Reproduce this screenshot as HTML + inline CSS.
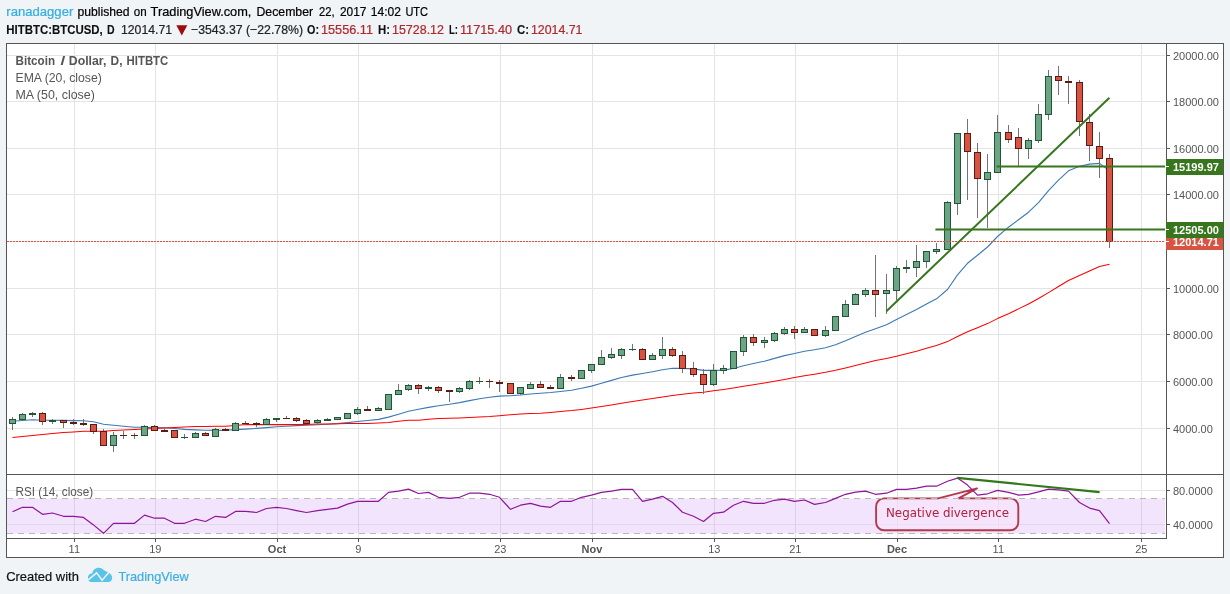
<!DOCTYPE html>
<html lang="en">
<head>
<meta charset="utf-8">
<title>HITBTC:BTCUSD, D - TradingView</title>
<style>
html,body{margin:0;padding:0;background:#F0F4F7;}
body{width:1230px;height:594px;overflow:hidden;font-family:"Liberation Sans", Arial, sans-serif;}
svg text{white-space:pre;}
</style>
</head>
<body>
<svg width="1230" height="594" viewBox="0 0 1230 594" style="display:block;will-change:transform">
<rect x="0" y="0" width="1230" height="594" fill="#F0F4F7"/>
<rect x="6" y="43" width="1218" height="515" fill="#FFFFFF"/>
<g shape-rendering="crispEdges">
<rect x="74" y="44" width="1" height="430" fill="#E4E4E4"/>
<rect x="74" y="475" width="1" height="63" fill="#E4E4E4"/>
<rect x="155" y="44" width="1" height="430" fill="#E4E4E4"/>
<rect x="155" y="475" width="1" height="63" fill="#E4E4E4"/>
<rect x="277" y="44" width="1" height="430" fill="#E4E4E4"/>
<rect x="277" y="475" width="1" height="63" fill="#E4E4E4"/>
<rect x="358" y="44" width="1" height="430" fill="#E4E4E4"/>
<rect x="358" y="475" width="1" height="63" fill="#E4E4E4"/>
<rect x="500" y="44" width="1" height="430" fill="#E4E4E4"/>
<rect x="500" y="475" width="1" height="63" fill="#E4E4E4"/>
<rect x="592" y="44" width="1" height="430" fill="#E4E4E4"/>
<rect x="592" y="475" width="1" height="63" fill="#E4E4E4"/>
<rect x="714" y="44" width="1" height="430" fill="#E4E4E4"/>
<rect x="714" y="475" width="1" height="63" fill="#E4E4E4"/>
<rect x="795" y="44" width="1" height="430" fill="#E4E4E4"/>
<rect x="795" y="475" width="1" height="63" fill="#E4E4E4"/>
<rect x="897" y="44" width="1" height="430" fill="#E4E4E4"/>
<rect x="897" y="475" width="1" height="63" fill="#E4E4E4"/>
<rect x="998" y="44" width="1" height="430" fill="#E4E4E4"/>
<rect x="998" y="475" width="1" height="63" fill="#E4E4E4"/>
<rect x="1141" y="44" width="1" height="430" fill="#E4E4E4"/>
<rect x="1141" y="475" width="1" height="63" fill="#E4E4E4"/>
<rect x="7" y="428" width="1158" height="1" fill="#E4E4E4"/>
<rect x="7" y="381" width="1158" height="1" fill="#E4E4E4"/>
<rect x="7" y="334" width="1158" height="1" fill="#E4E4E4"/>
<rect x="7" y="288" width="1158" height="1" fill="#E4E4E4"/>
<rect x="7" y="241" width="1158" height="1" fill="#E4E4E4"/>
<rect x="7" y="194" width="1158" height="1" fill="#E4E4E4"/>
<rect x="7" y="148" width="1158" height="1" fill="#E4E4E4"/>
<rect x="7" y="101" width="1158" height="1" fill="#E4E4E4"/>
<rect x="7" y="55" width="1158" height="1" fill="#E4E4E4"/>
<rect x="7" y="490" width="1158" height="1" fill="#E4E4E4"/>
<rect x="7" y="524" width="1158" height="1" fill="#E4E4E4"/>
</g>
<rect x="7" y="498.5" width="1158" height="35" fill="#F3E4FD"/>
<g shape-rendering="crispEdges">
<rect x="7" y="524" width="1158" height="1" fill="#E2D6EA"/>
<rect x="74" y="499" width="1" height="34" fill="#DDD0E6"/>
<rect x="155" y="499" width="1" height="34" fill="#DDD0E6"/>
<rect x="277" y="499" width="1" height="34" fill="#DDD0E6"/>
<rect x="358" y="499" width="1" height="34" fill="#DDD0E6"/>
<rect x="500" y="499" width="1" height="34" fill="#DDD0E6"/>
<rect x="592" y="499" width="1" height="34" fill="#DDD0E6"/>
<rect x="714" y="499" width="1" height="34" fill="#DDD0E6"/>
<rect x="795" y="499" width="1" height="34" fill="#DDD0E6"/>
<rect x="897" y="499" width="1" height="34" fill="#DDD0E6"/>
<rect x="998" y="499" width="1" height="34" fill="#DDD0E6"/>
<rect x="1141" y="499" width="1" height="34" fill="#DDD0E6"/>
</g>
<path d="M884.1,498.4 L938.1,498.4 L977,488.4 L958.5,498.4 L1010.3,498.4 A8,8 0 0 1 1018.3,506.4 L1018.3,522.3 A8,8 0 0 1 1010.3,530.3 L884.1,530.3 A8,8 0 0 1 876.1,522.3 L876.1,506.4 A8,8 0 0 1 884.1,498.4 Z" fill="#F7E5FA" fill-opacity="0.6" stroke="#B23A4C" stroke-width="1.9" stroke-linejoin="round"/>
<text x="886" y="517.2" font-family='"DejaVu Sans", Verdana, sans-serif' font-size="11.7" fill="#B0213F" textLength="123" lengthAdjust="spacingAndGlyphs">Negative divergence</text>
<g shape-rendering="crispEdges">
<line x1="7" y1="498.5" x2="1165" y2="498.5" stroke="#B9B9B9" stroke-width="1" stroke-dasharray="6 5"/>
<line x1="7" y1="533.5" x2="1165" y2="533.5" stroke="#B9B9B9" stroke-width="1" stroke-dasharray="6 5"/>
</g>
<polyline points="12.5,421.2 22.5,420.5 32.5,419.7 42.5,420.3 52.5,420.3 63.5,420.4 73.5,420.6 83.5,420.8 93.5,421.8 103.5,424.3 113.5,425.3 123.5,426.3 134.5,427.2 144.5,427.3 154.5,427.6 164.5,427.8 174.5,428.5 184.5,429.4 195.5,429.9 205.5,430.3 215.5,430.4 225.5,430.2 235.5,429.6 245.5,429.1 256.5,428.4 266.5,427.6 276.5,426.8 286.5,426.2 296.5,425.6 306.5,425.3 317.5,424.7 327.5,424.2 337.5,423.6 347.5,422.6 357.5,421.5 367.5,420.5 378.5,419.4 388.5,417.1 398.5,414.3 408.5,411.3 418.5,409.3 428.5,407.4 438.5,405.8 449.5,404.3 459.5,402.6 469.5,400.6 479.5,398.7 489.5,397.3 499.5,396.1 510.5,395.7 520.5,395.0 530.5,394.0 540.5,393.2 550.5,392.5 560.5,391.5 571.5,390.2 581.5,388.3 591.5,386.1 601.5,383.3 611.5,380.4 621.5,377.5 632.5,375.1 642.5,373.5 652.5,371.7 662.5,369.7 672.5,368.3 682.5,368.4 693.5,368.9 703.5,370.4 713.5,370.4 723.5,370.1 733.5,368.5 743.5,365.7 753.5,363.5 764.5,361.2 774.5,358.4 784.5,355.6 794.5,353.5 804.5,351.3 814.5,349.7 825.5,347.7 835.5,344.8 845.5,340.8 855.5,336.5 865.5,332.3 875.5,328.7 886.5,324.8 896.5,319.5 906.5,314.5 916.5,309.4 926.5,304.0 936.5,298.8 947.5,289.5 957.5,274.9 967.5,263.3 977.5,255.3 987.5,247.0 997.5,236.5 1008.5,227.2 1018.5,219.7 1028.5,212.2 1038.5,202.6 1048.5,190.6 1058.5,180.2 1068.5,170.8 1079.5,166.3 1089.5,164.1 1099.5,163.4 1109.5,170.7" fill="none" stroke="#3C79B3" stroke-width="1.1" stroke-linejoin="round" />
<polyline points="12.5,437.4 22.5,436.4 32.5,435.4 42.5,434.4 52.5,433.4 63.5,432.6 73.5,431.9 83.5,431.2 93.5,431.2 103.5,431.2 113.5,430.4 123.5,429.9 134.5,429.4 144.5,428.9 154.5,428.6 164.5,428.0 174.5,427.5 184.5,427.0 195.5,426.5 205.5,426.4 215.5,426.3 225.5,426.2 235.5,425.4 245.5,424.6 256.5,424.6 266.5,424.6 276.5,424.6 286.5,424.6 296.5,424.6 306.5,424.4 317.5,424.1 327.5,423.9 337.5,423.7 347.5,423.6 357.5,423.5 367.5,423.4 378.5,422.9 388.5,422.5 398.5,421.3 408.5,420.2 418.5,420.2 428.5,419.3 438.5,418.5 449.5,418.3 459.5,417.9 469.5,417.4 479.5,417.0 489.5,416.5 499.5,415.7 510.5,414.8 520.5,414.1 530.5,413.6 540.5,413.2 550.5,412.4 560.5,411.5 571.5,410.6 581.5,409.4 591.5,408.1 601.5,406.6 611.5,404.9 621.5,403.3 632.5,401.6 642.5,400.1 652.5,398.6 662.5,396.9 672.5,395.4 682.5,394.2 693.5,393.1 703.5,392.2 713.5,390.8 723.5,389.5 733.5,388.0 743.5,386.3 753.5,384.7 764.5,383.0 774.5,381.3 784.5,379.5 794.5,377.6 804.5,375.8 814.5,374.2 825.5,372.3 835.5,370.3 845.5,367.9 855.5,365.4 865.5,363.0 875.5,360.6 886.5,358.4 896.5,356.2 906.5,353.8 916.5,351.2 926.5,348.3 936.5,345.4 947.5,341.6 957.5,336.5 967.5,331.7 977.5,327.7 987.5,323.6 997.5,318.6 1008.5,313.7 1018.5,308.9 1028.5,304.0 1038.5,298.5 1048.5,292.6 1058.5,286.5 1068.5,280.5 1079.5,275.4 1089.5,271.0 1099.5,266.5 1109.5,264.3" fill="none" stroke="#FF0000" stroke-width="1.05" stroke-linejoin="round" />
<g shape-rendering="crispEdges">
<rect x="12" y="417" width="1" height="13" fill="#737375"/>
<rect x="9" y="419" width="7" height="5" fill="#225437"/>
<rect x="10" y="420" width="5" height="3" fill="#6BA583"/>
<rect x="22" y="413" width="1" height="7" fill="#737375"/>
<rect x="19" y="414" width="7" height="6" fill="#225437"/>
<rect x="20" y="415" width="5" height="4" fill="#6BA583"/>
<rect x="32" y="412" width="1" height="5" fill="#737375"/>
<rect x="29" y="413" width="7" height="2" fill="#225437"/>
<rect x="42" y="412" width="1" height="13" fill="#737375"/>
<rect x="39" y="413" width="7" height="9" fill="#5B1A13"/>
<rect x="40" y="414" width="5" height="7" fill="#D75442"/>
<rect x="52" y="419" width="1" height="5" fill="#737375"/>
<rect x="49" y="420" width="7" height="2" fill="#225437"/>
<rect x="63" y="420" width="1" height="8" fill="#737375"/>
<rect x="60" y="420" width="7" height="3" fill="#5B1A13"/>
<rect x="61" y="421" width="5" height="1" fill="#D75442"/>
<rect x="73" y="419" width="1" height="6" fill="#737375"/>
<rect x="70" y="422" width="7" height="2" fill="#5B1A13"/>
<rect x="83" y="419" width="1" height="7" fill="#737375"/>
<rect x="80" y="423" width="7" height="2" fill="#5B1A13"/>
<rect x="93" y="424" width="1" height="10" fill="#737375"/>
<rect x="90" y="424" width="7" height="8" fill="#5B1A13"/>
<rect x="91" y="425" width="5" height="6" fill="#D75442"/>
<rect x="103" y="429" width="1" height="17" fill="#737375"/>
<rect x="100" y="431" width="7" height="15" fill="#5B1A13"/>
<rect x="101" y="432" width="5" height="13" fill="#D75442"/>
<rect x="113" y="432" width="1" height="20" fill="#737375"/>
<rect x="110" y="435" width="7" height="11" fill="#225437"/>
<rect x="111" y="436" width="5" height="9" fill="#6BA583"/>
<rect x="123" y="431" width="1" height="8" fill="#737375"/>
<rect x="120" y="435" width="7" height="1" fill="#5B1A13"/>
<rect x="134" y="433" width="1" height="6" fill="#737375"/>
<rect x="131" y="435" width="7" height="1" fill="#5B1A13"/>
<rect x="144" y="425" width="1" height="11" fill="#737375"/>
<rect x="141" y="426" width="7" height="10" fill="#225437"/>
<rect x="142" y="427" width="5" height="8" fill="#6BA583"/>
<rect x="154" y="425" width="1" height="6" fill="#737375"/>
<rect x="151" y="426" width="7" height="5" fill="#5B1A13"/>
<rect x="152" y="427" width="5" height="3" fill="#D75442"/>
<rect x="164" y="427" width="1" height="5" fill="#737375"/>
<rect x="161" y="430" width="7" height="2" fill="#5B1A13"/>
<rect x="174" y="430" width="1" height="8" fill="#737375"/>
<rect x="171" y="430" width="7" height="8" fill="#5B1A13"/>
<rect x="172" y="431" width="5" height="6" fill="#D75442"/>
<rect x="184" y="434" width="1" height="5" fill="#737375"/>
<rect x="181" y="437" width="7" height="1" fill="#225437"/>
<rect x="195" y="432" width="1" height="6" fill="#737375"/>
<rect x="192" y="433" width="7" height="5" fill="#225437"/>
<rect x="193" y="434" width="5" height="3" fill="#6BA583"/>
<rect x="205" y="432" width="1" height="4" fill="#737375"/>
<rect x="202" y="433" width="7" height="3" fill="#5B1A13"/>
<rect x="203" y="434" width="5" height="1" fill="#D75442"/>
<rect x="215" y="428" width="1" height="9" fill="#737375"/>
<rect x="212" y="429" width="7" height="8" fill="#225437"/>
<rect x="213" y="430" width="5" height="6" fill="#6BA583"/>
<rect x="225" y="428" width="1" height="3" fill="#737375"/>
<rect x="222" y="429" width="7" height="2" fill="#5B1A13"/>
<rect x="235" y="422" width="1" height="9" fill="#737375"/>
<rect x="232" y="423" width="7" height="8" fill="#225437"/>
<rect x="233" y="424" width="5" height="6" fill="#6BA583"/>
<rect x="245" y="421" width="1" height="4" fill="#737375"/>
<rect x="242" y="423" width="7" height="1" fill="#5B1A13"/>
<rect x="256" y="422" width="1" height="5" fill="#737375"/>
<rect x="253" y="423" width="7" height="2" fill="#5B1A13"/>
<rect x="266" y="418" width="1" height="7" fill="#737375"/>
<rect x="263" y="419" width="7" height="6" fill="#225437"/>
<rect x="264" y="420" width="5" height="4" fill="#6BA583"/>
<rect x="276" y="418" width="1" height="4" fill="#737375"/>
<rect x="273" y="418" width="7" height="2" fill="#225437"/>
<rect x="286" y="416" width="1" height="3" fill="#737375"/>
<rect x="283" y="418" width="7" height="1" fill="#5B1A13"/>
<rect x="296" y="417" width="1" height="5" fill="#737375"/>
<rect x="293" y="418" width="7" height="3" fill="#5B1A13"/>
<rect x="294" y="419" width="5" height="1" fill="#D75442"/>
<rect x="306" y="419" width="1" height="5" fill="#737375"/>
<rect x="303" y="420" width="7" height="4" fill="#5B1A13"/>
<rect x="304" y="421" width="5" height="2" fill="#D75442"/>
<rect x="317" y="419" width="1" height="5" fill="#737375"/>
<rect x="314" y="420" width="7" height="3" fill="#225437"/>
<rect x="315" y="421" width="5" height="1" fill="#6BA583"/>
<rect x="327" y="418" width="1" height="3" fill="#737375"/>
<rect x="324" y="419" width="7" height="2" fill="#225437"/>
<rect x="337" y="417" width="1" height="3" fill="#737375"/>
<rect x="334" y="417" width="7" height="3" fill="#225437"/>
<rect x="335" y="418" width="5" height="1" fill="#6BA583"/>
<rect x="347" y="413" width="1" height="6" fill="#737375"/>
<rect x="344" y="413" width="7" height="6" fill="#225437"/>
<rect x="345" y="414" width="5" height="4" fill="#6BA583"/>
<rect x="357" y="407" width="1" height="8" fill="#737375"/>
<rect x="354" y="409" width="7" height="5" fill="#225437"/>
<rect x="355" y="410" width="5" height="3" fill="#6BA583"/>
<rect x="367" y="406" width="1" height="5" fill="#737375"/>
<rect x="364" y="409" width="7" height="2" fill="#5B1A13"/>
<rect x="378" y="407" width="1" height="4" fill="#737375"/>
<rect x="375" y="408" width="7" height="3" fill="#225437"/>
<rect x="376" y="409" width="5" height="1" fill="#6BA583"/>
<rect x="388" y="394" width="1" height="16" fill="#737375"/>
<rect x="385" y="394" width="7" height="16" fill="#225437"/>
<rect x="386" y="395" width="5" height="14" fill="#6BA583"/>
<rect x="398" y="384" width="1" height="11" fill="#737375"/>
<rect x="395" y="390" width="7" height="5" fill="#225437"/>
<rect x="396" y="391" width="5" height="3" fill="#6BA583"/>
<rect x="408" y="384" width="1" height="7" fill="#737375"/>
<rect x="405" y="385" width="7" height="5" fill="#225437"/>
<rect x="406" y="386" width="5" height="3" fill="#6BA583"/>
<rect x="418" y="384" width="1" height="10" fill="#737375"/>
<rect x="415" y="385" width="7" height="4" fill="#5B1A13"/>
<rect x="416" y="386" width="5" height="2" fill="#D75442"/>
<rect x="428" y="386" width="1" height="5" fill="#737375"/>
<rect x="425" y="387" width="7" height="2" fill="#225437"/>
<rect x="438" y="386" width="1" height="7" fill="#737375"/>
<rect x="435" y="387" width="7" height="4" fill="#5B1A13"/>
<rect x="436" y="388" width="5" height="2" fill="#D75442"/>
<rect x="449" y="390" width="1" height="12" fill="#737375"/>
<rect x="446" y="390" width="7" height="2" fill="#5B1A13"/>
<rect x="459" y="387" width="1" height="6" fill="#737375"/>
<rect x="456" y="388" width="7" height="4" fill="#225437"/>
<rect x="457" y="389" width="5" height="2" fill="#6BA583"/>
<rect x="469" y="380" width="1" height="10" fill="#737375"/>
<rect x="466" y="381" width="7" height="8" fill="#225437"/>
<rect x="467" y="382" width="5" height="6" fill="#6BA583"/>
<rect x="479" y="377" width="1" height="7" fill="#737375"/>
<rect x="476" y="381" width="7" height="1" fill="#225437"/>
<rect x="489" y="379" width="1" height="9" fill="#737375"/>
<rect x="486" y="381" width="7" height="1" fill="#5B1A13"/>
<rect x="499" y="380" width="1" height="12" fill="#737375"/>
<rect x="496" y="382" width="7" height="2" fill="#5B1A13"/>
<rect x="510" y="383" width="1" height="11" fill="#737375"/>
<rect x="507" y="383" width="7" height="11" fill="#5B1A13"/>
<rect x="508" y="384" width="5" height="9" fill="#D75442"/>
<rect x="520" y="387" width="1" height="8" fill="#737375"/>
<rect x="517" y="387" width="7" height="7" fill="#225437"/>
<rect x="518" y="388" width="5" height="5" fill="#6BA583"/>
<rect x="530" y="382" width="1" height="7" fill="#737375"/>
<rect x="527" y="384" width="7" height="5" fill="#225437"/>
<rect x="528" y="385" width="5" height="3" fill="#6BA583"/>
<rect x="540" y="381" width="1" height="7" fill="#737375"/>
<rect x="537" y="384" width="7" height="4" fill="#5B1A13"/>
<rect x="538" y="385" width="5" height="2" fill="#D75442"/>
<rect x="550" y="385" width="1" height="4" fill="#737375"/>
<rect x="547" y="387" width="7" height="2" fill="#5B1A13"/>
<rect x="560" y="374" width="1" height="15" fill="#737375"/>
<rect x="557" y="377" width="7" height="12" fill="#225437"/>
<rect x="558" y="378" width="5" height="10" fill="#6BA583"/>
<rect x="571" y="375" width="1" height="6" fill="#737375"/>
<rect x="568" y="377" width="7" height="2" fill="#5B1A13"/>
<rect x="581" y="370" width="1" height="9" fill="#737375"/>
<rect x="578" y="370" width="7" height="9" fill="#225437"/>
<rect x="579" y="371" width="5" height="7" fill="#6BA583"/>
<rect x="591" y="364" width="1" height="9" fill="#737375"/>
<rect x="588" y="364" width="7" height="7" fill="#225437"/>
<rect x="589" y="365" width="5" height="5" fill="#6BA583"/>
<rect x="601" y="350" width="1" height="15" fill="#737375"/>
<rect x="598" y="357" width="7" height="8" fill="#225437"/>
<rect x="599" y="358" width="5" height="6" fill="#6BA583"/>
<rect x="611" y="348" width="1" height="11" fill="#737375"/>
<rect x="608" y="354" width="7" height="4" fill="#225437"/>
<rect x="609" y="355" width="5" height="2" fill="#6BA583"/>
<rect x="621" y="348" width="1" height="11" fill="#737375"/>
<rect x="618" y="349" width="7" height="7" fill="#225437"/>
<rect x="619" y="350" width="5" height="5" fill="#6BA583"/>
<rect x="632" y="344" width="1" height="7" fill="#737375"/>
<rect x="629" y="349" width="7" height="1" fill="#225437"/>
<rect x="642" y="348" width="1" height="12" fill="#737375"/>
<rect x="639" y="349" width="7" height="11" fill="#5B1A13"/>
<rect x="640" y="350" width="5" height="9" fill="#D75442"/>
<rect x="652" y="353" width="1" height="7" fill="#737375"/>
<rect x="649" y="355" width="7" height="5" fill="#225437"/>
<rect x="650" y="356" width="5" height="3" fill="#6BA583"/>
<rect x="662" y="337" width="1" height="22" fill="#737375"/>
<rect x="659" y="349" width="7" height="7" fill="#225437"/>
<rect x="660" y="350" width="5" height="5" fill="#6BA583"/>
<rect x="672" y="347" width="1" height="10" fill="#737375"/>
<rect x="669" y="349" width="7" height="7" fill="#5B1A13"/>
<rect x="670" y="350" width="5" height="5" fill="#D75442"/>
<rect x="682" y="351" width="1" height="22" fill="#737375"/>
<rect x="679" y="355" width="7" height="14" fill="#5B1A13"/>
<rect x="680" y="356" width="5" height="12" fill="#D75442"/>
<rect x="693" y="362" width="1" height="15" fill="#737375"/>
<rect x="690" y="368" width="7" height="7" fill="#5B1A13"/>
<rect x="691" y="369" width="5" height="5" fill="#D75442"/>
<rect x="703" y="369" width="1" height="25" fill="#737375"/>
<rect x="700" y="374" width="7" height="11" fill="#5B1A13"/>
<rect x="701" y="375" width="5" height="9" fill="#D75442"/>
<rect x="713" y="364" width="1" height="22" fill="#737375"/>
<rect x="710" y="370" width="7" height="15" fill="#225437"/>
<rect x="711" y="371" width="5" height="13" fill="#6BA583"/>
<rect x="723" y="365" width="1" height="9" fill="#737375"/>
<rect x="720" y="368" width="7" height="3" fill="#225437"/>
<rect x="721" y="369" width="5" height="1" fill="#6BA583"/>
<rect x="733" y="351" width="1" height="18" fill="#737375"/>
<rect x="730" y="351" width="7" height="18" fill="#225437"/>
<rect x="731" y="352" width="5" height="16" fill="#6BA583"/>
<rect x="743" y="335" width="1" height="21" fill="#737375"/>
<rect x="740" y="337" width="7" height="15" fill="#225437"/>
<rect x="741" y="338" width="5" height="13" fill="#6BA583"/>
<rect x="753" y="334" width="1" height="12" fill="#737375"/>
<rect x="750" y="337" width="7" height="6" fill="#5B1A13"/>
<rect x="751" y="338" width="5" height="4" fill="#D75442"/>
<rect x="764" y="337" width="1" height="11" fill="#737375"/>
<rect x="761" y="340" width="7" height="3" fill="#225437"/>
<rect x="762" y="341" width="5" height="1" fill="#6BA583"/>
<rect x="774" y="332" width="1" height="10" fill="#737375"/>
<rect x="771" y="333" width="7" height="8" fill="#225437"/>
<rect x="772" y="334" width="5" height="6" fill="#6BA583"/>
<rect x="784" y="327" width="1" height="8" fill="#737375"/>
<rect x="781" y="329" width="7" height="5" fill="#225437"/>
<rect x="782" y="330" width="5" height="3" fill="#6BA583"/>
<rect x="794" y="326" width="1" height="13" fill="#737375"/>
<rect x="791" y="329" width="7" height="4" fill="#5B1A13"/>
<rect x="792" y="330" width="5" height="2" fill="#D75442"/>
<rect x="804" y="327" width="1" height="6" fill="#737375"/>
<rect x="801" y="329" width="7" height="4" fill="#225437"/>
<rect x="802" y="330" width="5" height="2" fill="#6BA583"/>
<rect x="814" y="329" width="1" height="7" fill="#737375"/>
<rect x="811" y="329" width="7" height="7" fill="#5B1A13"/>
<rect x="812" y="330" width="5" height="5" fill="#D75442"/>
<rect x="825" y="326" width="1" height="11" fill="#737375"/>
<rect x="822" y="330" width="7" height="6" fill="#225437"/>
<rect x="823" y="331" width="5" height="4" fill="#6BA583"/>
<rect x="835" y="316" width="1" height="15" fill="#737375"/>
<rect x="832" y="316" width="7" height="15" fill="#225437"/>
<rect x="833" y="317" width="5" height="13" fill="#6BA583"/>
<rect x="845" y="300" width="1" height="17" fill="#737375"/>
<rect x="842" y="304" width="7" height="13" fill="#225437"/>
<rect x="843" y="305" width="5" height="11" fill="#6BA583"/>
<rect x="855" y="293" width="1" height="12" fill="#737375"/>
<rect x="852" y="294" width="7" height="11" fill="#225437"/>
<rect x="853" y="295" width="5" height="9" fill="#6BA583"/>
<rect x="865" y="288" width="1" height="9" fill="#737375"/>
<rect x="862" y="290" width="7" height="5" fill="#225437"/>
<rect x="863" y="291" width="5" height="3" fill="#6BA583"/>
<rect x="875" y="255" width="1" height="62" fill="#737375"/>
<rect x="872" y="290" width="7" height="5" fill="#5B1A13"/>
<rect x="873" y="291" width="5" height="3" fill="#D75442"/>
<rect x="886" y="274" width="1" height="40" fill="#737375"/>
<rect x="883" y="290" width="7" height="4" fill="#225437"/>
<rect x="884" y="291" width="5" height="2" fill="#6BA583"/>
<rect x="896" y="266" width="1" height="34" fill="#737375"/>
<rect x="893" y="268" width="7" height="23" fill="#225437"/>
<rect x="894" y="269" width="5" height="21" fill="#6BA583"/>
<rect x="906" y="260" width="1" height="13" fill="#737375"/>
<rect x="903" y="267" width="7" height="2" fill="#225437"/>
<rect x="916" y="245" width="1" height="32" fill="#737375"/>
<rect x="913" y="261" width="7" height="7" fill="#225437"/>
<rect x="914" y="262" width="5" height="5" fill="#6BA583"/>
<rect x="926" y="251" width="1" height="17" fill="#737375"/>
<rect x="923" y="251" width="7" height="11" fill="#225437"/>
<rect x="924" y="252" width="5" height="9" fill="#6BA583"/>
<rect x="936" y="243" width="1" height="11" fill="#737375"/>
<rect x="933" y="249" width="7" height="3" fill="#225437"/>
<rect x="934" y="250" width="5" height="1" fill="#6BA583"/>
<rect x="947" y="201" width="1" height="49" fill="#737375"/>
<rect x="944" y="202" width="7" height="48" fill="#225437"/>
<rect x="945" y="203" width="5" height="46" fill="#6BA583"/>
<rect x="957" y="133" width="1" height="82" fill="#737375"/>
<rect x="954" y="133" width="7" height="71" fill="#225437"/>
<rect x="955" y="134" width="5" height="69" fill="#6BA583"/>
<rect x="967" y="119" width="1" height="81" fill="#737375"/>
<rect x="964" y="133" width="7" height="19" fill="#5B1A13"/>
<rect x="965" y="134" width="5" height="17" fill="#D75442"/>
<rect x="977" y="143" width="1" height="75" fill="#737375"/>
<rect x="974" y="152" width="7" height="27" fill="#5B1A13"/>
<rect x="975" y="153" width="5" height="25" fill="#D75442"/>
<rect x="987" y="154" width="1" height="74" fill="#737375"/>
<rect x="984" y="172" width="7" height="8" fill="#225437"/>
<rect x="985" y="173" width="5" height="6" fill="#6BA583"/>
<rect x="997" y="115" width="1" height="58" fill="#737375"/>
<rect x="994" y="132" width="7" height="41" fill="#225437"/>
<rect x="995" y="133" width="5" height="39" fill="#6BA583"/>
<rect x="1008" y="125" width="1" height="18" fill="#737375"/>
<rect x="1005" y="132" width="7" height="8" fill="#5B1A13"/>
<rect x="1006" y="133" width="5" height="6" fill="#D75442"/>
<rect x="1018" y="128" width="1" height="38" fill="#737375"/>
<rect x="1015" y="137" width="7" height="12" fill="#5B1A13"/>
<rect x="1016" y="138" width="5" height="10" fill="#D75442"/>
<rect x="1028" y="138" width="1" height="21" fill="#737375"/>
<rect x="1025" y="140" width="7" height="9" fill="#225437"/>
<rect x="1026" y="141" width="5" height="7" fill="#6BA583"/>
<rect x="1038" y="104" width="1" height="39" fill="#737375"/>
<rect x="1035" y="114" width="7" height="27" fill="#225437"/>
<rect x="1036" y="115" width="5" height="25" fill="#6BA583"/>
<rect x="1048" y="70" width="1" height="50" fill="#737375"/>
<rect x="1045" y="76" width="7" height="39" fill="#225437"/>
<rect x="1046" y="77" width="5" height="37" fill="#6BA583"/>
<rect x="1058" y="66" width="1" height="29" fill="#737375"/>
<rect x="1055" y="76" width="7" height="5" fill="#5B1A13"/>
<rect x="1056" y="77" width="5" height="3" fill="#D75442"/>
<rect x="1068" y="76" width="1" height="28" fill="#737375"/>
<rect x="1065" y="81" width="7" height="2" fill="#5B1A13"/>
<rect x="1079" y="80" width="1" height="56" fill="#737375"/>
<rect x="1076" y="82" width="7" height="40" fill="#5B1A13"/>
<rect x="1077" y="83" width="5" height="38" fill="#D75442"/>
<rect x="1089" y="114" width="1" height="47" fill="#737375"/>
<rect x="1086" y="122" width="7" height="24" fill="#5B1A13"/>
<rect x="1087" y="123" width="5" height="22" fill="#D75442"/>
<rect x="1099" y="132" width="1" height="46" fill="#737375"/>
<rect x="1096" y="146" width="7" height="13" fill="#5B1A13"/>
<rect x="1097" y="147" width="5" height="11" fill="#D75442"/>
<rect x="1109" y="154" width="1" height="94" fill="#737375"/>
<rect x="1106" y="158" width="7" height="84" fill="#5B1A13"/>
<rect x="1107" y="159" width="5" height="82" fill="#D75442"/>
</g>
<line x1="7" y1="241.5" x2="1165" y2="241.5" stroke="#D75442" stroke-width="1" stroke-dasharray="2 1" shape-rendering="crispEdges"/>
<line x1="996.5" y1="166.5" x2="1165" y2="166.5" stroke="#37761D" stroke-width="2"/>
<line x1="935.4" y1="229.5" x2="1165" y2="229.5" stroke="#37761D" stroke-width="2"/>
<line x1="886.4" y1="311.2" x2="1109.4" y2="97.8" stroke="#37761D" stroke-width="2"/>
<polyline points="12.5,511.7 22.5,507.3 32.5,507.3 42.5,514.3 52.5,513.0 63.5,516.3 73.5,516.3 83.5,517.4 93.5,524.9 103.5,533.3 113.5,523.3 123.5,523.3 134.5,523.3 144.5,515.1 154.5,518.2 164.5,518.2 174.5,523.3 184.5,523.3 195.5,519.2 205.5,521.5 215.5,516.3 225.5,517.4 235.5,511.4 245.5,511.4 256.5,512.5 266.5,508.5 276.5,507.3 286.5,508.5 296.5,510.6 306.5,512.5 317.5,510.6 327.5,509.3 337.5,508.1 347.5,504.1 357.5,501.3 367.5,501.3 378.5,501.3 388.5,492.4 398.5,491.1 408.5,489.1 418.5,493.5 428.5,492.4 438.5,497.3 449.5,498.4 459.5,497.3 469.5,493.2 479.5,493.2 489.5,494.3 499.5,497.3 510.5,509.3 520.5,505.2 530.5,503.3 540.5,506.2 550.5,507.3 560.5,501.3 571.5,501.3 581.5,497.3 591.5,495.1 601.5,492.4 611.5,491.1 621.5,489.4 632.5,489.4 642.5,501.3 652.5,499.2 662.5,496.3 672.5,502.5 682.5,512.2 693.5,516.3 703.5,521.5 713.5,513.3 723.5,512.2 733.5,505.2 743.5,501.3 753.5,503.3 764.5,503.3 774.5,500.3 784.5,499.2 794.5,501.3 804.5,500.0 814.5,504.4 825.5,502.5 835.5,498.4 845.5,494.3 855.5,492.2 865.5,491.1 875.5,494.3 886.5,493.2 896.5,489.4 906.5,489.4 916.5,488.1 926.5,486.2 936.5,486.2 947.5,481.3 957.5,478.1 967.5,485.1 977.5,495.1 987.5,493.8 997.5,490.4 1008.5,492.4 1018.5,495.1 1028.5,494.3 1038.5,491.9 1048.5,489.1 1058.5,489.9 1068.5,491.1 1079.5,502.5 1089.5,508.1 1099.5,510.6 1109.5,523.6" fill="none" stroke="#8E1599" stroke-width="1.2" stroke-linejoin="round" />
<line x1="957.3" y1="477.8" x2="1099.6" y2="492.2" stroke="#32781A" stroke-width="2.2"/>
<g shape-rendering="crispEdges">
<rect x="6" y="43" width="1218" height="1" fill="#555555"/>
<rect x="6" y="557" width="1218" height="1" fill="#555555"/>
<rect x="6" y="43" width="1" height="515" fill="#555555"/>
<rect x="1223" y="43" width="1" height="515" fill="#555555"/>
<rect x="1166" y="43" width="1" height="496" fill="#555555"/>
<rect x="6" y="474" width="1218" height="1" fill="#555555"/>
<rect x="6" y="538" width="1161" height="1" fill="#555555"/>
<rect x="1167" y="428" width="3" height="1" fill="#555555"/>
<rect x="1167" y="381" width="3" height="1" fill="#555555"/>
<rect x="1167" y="334" width="3" height="1" fill="#555555"/>
<rect x="1167" y="288" width="3" height="1" fill="#555555"/>
<rect x="1167" y="241" width="3" height="1" fill="#555555"/>
<rect x="1167" y="194" width="3" height="1" fill="#555555"/>
<rect x="1167" y="148" width="3" height="1" fill="#555555"/>
<rect x="1167" y="101" width="3" height="1" fill="#555555"/>
<rect x="1167" y="55" width="3" height="1" fill="#555555"/>
<rect x="1167" y="490" width="3" height="1" fill="#555555"/>
<rect x="1167" y="524" width="3" height="1" fill="#555555"/>
<rect x="74" y="539" width="1" height="3" fill="#555555"/>
<rect x="155" y="539" width="1" height="3" fill="#555555"/>
<rect x="277" y="539" width="1" height="3" fill="#555555"/>
<rect x="358" y="539" width="1" height="3" fill="#555555"/>
<rect x="500" y="539" width="1" height="3" fill="#555555"/>
<rect x="592" y="539" width="1" height="3" fill="#555555"/>
<rect x="714" y="539" width="1" height="3" fill="#555555"/>
<rect x="795" y="539" width="1" height="3" fill="#555555"/>
<rect x="897" y="539" width="1" height="3" fill="#555555"/>
<rect x="998" y="539" width="1" height="3" fill="#555555"/>
<rect x="1141" y="539" width="1" height="3" fill="#555555"/>
</g>
<text x="1173" y="432.5" font-family='"Liberation Sans", Arial, sans-serif' font-size="11" fill="#555555">4000.00</text>
<text x="1173" y="385.5" font-family='"Liberation Sans", Arial, sans-serif' font-size="11" fill="#555555">6000.00</text>
<text x="1173" y="338.5" font-family='"Liberation Sans", Arial, sans-serif' font-size="11" fill="#555555">8000.00</text>
<text x="1173" y="292.5" font-family='"Liberation Sans", Arial, sans-serif' font-size="11" fill="#555555">10000.00</text>
<text x="1173" y="245.5" font-family='"Liberation Sans", Arial, sans-serif' font-size="11" fill="#555555">12000.00</text>
<text x="1173" y="198.5" font-family='"Liberation Sans", Arial, sans-serif' font-size="11" fill="#555555">14000.00</text>
<text x="1173" y="152.5" font-family='"Liberation Sans", Arial, sans-serif' font-size="11" fill="#555555">16000.00</text>
<text x="1173" y="105.5" font-family='"Liberation Sans", Arial, sans-serif' font-size="11" fill="#555555">18000.00</text>
<text x="1173" y="59.5" font-family='"Liberation Sans", Arial, sans-serif' font-size="11" fill="#555555">20000.00</text>
<text x="1173" y="494.5" font-family='"Liberation Sans", Arial, sans-serif' font-size="11" fill="#555555">80.0000</text>
<text x="1173" y="528.5" font-family='"Liberation Sans", Arial, sans-serif' font-size="11" fill="#555555">40.0000</text>
<rect x="1166" y="238" width="57" height="12" fill="#D75442" shape-rendering="crispEdges"/>
<rect x="1165" y="241" width="4" height="1" fill="#FFFFFF" shape-rendering="crispEdges"/>
<text x="1173" y="246" font-family='"Liberation Sans", Arial, sans-serif' font-size="11" font-weight="bold" fill="#FFFFFF">12014.71</text>
<rect x="1166" y="159" width="57" height="16" fill="#37761D" shape-rendering="crispEdges"/>
<rect x="1165" y="166" width="4" height="1" fill="#FFFFFF" shape-rendering="crispEdges"/>
<text x="1173" y="171" font-family='"Liberation Sans", Arial, sans-serif' font-size="11" font-weight="bold" fill="#FFFFFF">15199.97</text>
<rect x="1166" y="222" width="57" height="16" fill="#37761D" shape-rendering="crispEdges"/>
<rect x="1165" y="229" width="4" height="1" fill="#FFFFFF" shape-rendering="crispEdges"/>
<text x="1173" y="234" font-family='"Liberation Sans", Arial, sans-serif' font-size="11" font-weight="bold" fill="#FFFFFF">12505.00</text>
<text x="74.3" y="553" font-family='"Liberation Sans", Arial, sans-serif' font-size="11" fill="#555555" text-anchor="middle">11</text>
<text x="155.3" y="553" font-family='"Liberation Sans", Arial, sans-serif' font-size="11" fill="#555555" text-anchor="middle">19</text>
<text x="277.0" y="553" font-family='"Liberation Sans", Arial, sans-serif' font-size="11" fill="#555555" text-anchor="middle" font-weight="bold">Oct</text>
<text x="358.3" y="553" font-family='"Liberation Sans", Arial, sans-serif' font-size="11" fill="#555555" text-anchor="middle">9</text>
<text x="500.3" y="553" font-family='"Liberation Sans", Arial, sans-serif' font-size="11" fill="#555555" text-anchor="middle">23</text>
<text x="592.0" y="553" font-family='"Liberation Sans", Arial, sans-serif' font-size="11" fill="#555555" text-anchor="middle" font-weight="bold">Nov</text>
<text x="714.3" y="553" font-family='"Liberation Sans", Arial, sans-serif' font-size="11" fill="#555555" text-anchor="middle">13</text>
<text x="795.3" y="553" font-family='"Liberation Sans", Arial, sans-serif' font-size="11" fill="#555555" text-anchor="middle">21</text>
<text x="897.0" y="553" font-family='"Liberation Sans", Arial, sans-serif' font-size="11" fill="#555555" text-anchor="middle" font-weight="bold">Dec</text>
<text x="998.3" y="553" font-family='"Liberation Sans", Arial, sans-serif' font-size="11" fill="#555555" text-anchor="middle">11</text>
<text x="1141.3" y="553" font-family='"Liberation Sans", Arial, sans-serif' font-size="11" fill="#555555" text-anchor="middle">25</text>
<text x="15.6" y="65" font-family='"Liberation Sans", Arial, sans-serif' font-size="13" fill="#555" font-weight="bold" textLength="39.4" lengthAdjust="spacingAndGlyphs">Bitcoin</text>
<text x="60.4" y="65" font-family='"Liberation Sans", Arial, sans-serif' font-size="13" fill="#555" font-weight="bold" textLength="4.8" lengthAdjust="spacingAndGlyphs">/</text>
<text x="68.8" y="65" font-family='"Liberation Sans", Arial, sans-serif' font-size="13" fill="#555" font-weight="bold" textLength="37.6" lengthAdjust="spacingAndGlyphs">Dollar,</text>
<text x="110.6" y="65" font-family='"Liberation Sans", Arial, sans-serif' font-size="13" fill="#555" font-weight="bold" textLength="11.9" lengthAdjust="spacingAndGlyphs">D,</text>
<text x="126.6" y="65" font-family='"Liberation Sans", Arial, sans-serif' font-size="13" fill="#555" font-weight="bold" textLength="41.7" lengthAdjust="spacingAndGlyphs">HITBTC</text>
<text x="15.5" y="82" font-family='"Liberation Sans", Arial, sans-serif' font-size="13" fill="#555" textLength="86.3" lengthAdjust="spacingAndGlyphs">EMA (20, close)</text>
<text x="15.5" y="99" font-family='"Liberation Sans", Arial, sans-serif' font-size="13" fill="#555" textLength="79.3" lengthAdjust="spacingAndGlyphs">MA (50, close)</text>
<text x="15.5" y="496" font-family='"Liberation Sans", Arial, sans-serif' font-size="13" fill="#555" textLength="77.6" lengthAdjust="spacingAndGlyphs">RSI (14, close)</text>
<text x="6.3" y="16" font-family='"Liberation Sans", Arial, sans-serif' font-size="13" fill="#35AEE2" stroke="#35AEE2" stroke-width="0.22" textLength="67" lengthAdjust="spacingAndGlyphs">ranadagger</text>
<text x="77.5" y="16" font-family='"Liberation Sans", Arial, sans-serif' font-size="13" fill="#000000" stroke="#000000" stroke-width="0.22" textLength="52.0" lengthAdjust="spacingAndGlyphs">published</text>
<text x="133.8" y="16" font-family='"Liberation Sans", Arial, sans-serif' font-size="13" fill="#000000" stroke="#000000" stroke-width="0.22" textLength="12.9" lengthAdjust="spacingAndGlyphs">on</text>
<text x="150.6" y="16" font-family='"Liberation Sans", Arial, sans-serif' font-size="13" fill="#000000" stroke="#000000" stroke-width="0.22" textLength="100.8" lengthAdjust="spacingAndGlyphs">TradingView.com,</text>
<text x="256.5" y="16" font-family='"Liberation Sans", Arial, sans-serif' font-size="13" fill="#000000" stroke="#000000" stroke-width="0.22" textLength="56.6" lengthAdjust="spacingAndGlyphs">December</text>
<text x="319.1" y="16" font-family='"Liberation Sans", Arial, sans-serif' font-size="13" fill="#000000" stroke="#000000" stroke-width="0.22" textLength="15.6" lengthAdjust="spacingAndGlyphs">22,</text>
<text x="339.9" y="16" font-family='"Liberation Sans", Arial, sans-serif' font-size="13" fill="#000000" stroke="#000000" stroke-width="0.22" textLength="26.5" lengthAdjust="spacingAndGlyphs">2017</text>
<text x="370.8" y="16" font-family='"Liberation Sans", Arial, sans-serif' font-size="13" fill="#000000" stroke="#000000" stroke-width="0.22" textLength="30.1" lengthAdjust="spacingAndGlyphs">14:02</text>
<text x="405.4" y="16" font-family='"Liberation Sans", Arial, sans-serif' font-size="13" fill="#000000" stroke="#000000" stroke-width="0.22" textLength="22.6" lengthAdjust="spacingAndGlyphs">UTC</text>
<text x="6.3" y="33.7" font-family='"Liberation Sans", Arial, sans-serif' font-size="13" fill="#111" font-weight="bold" stroke="#111" stroke-width="0.12" textLength="96.5" lengthAdjust="spacingAndGlyphs">HITBTC:BTCUSD,</text>
<text x="107.1" y="33.7" font-family='"Liberation Sans", Arial, sans-serif' font-size="13" fill="#111" font-weight="bold" stroke="#111" stroke-width="0.12" textLength="7.6" lengthAdjust="spacingAndGlyphs">D</text>
<text x="121" y="33.7" font-family='"Liberation Sans", Arial, sans-serif' font-size="13" fill="#222" stroke="#222" stroke-width="0.22" textLength="51" lengthAdjust="spacingAndGlyphs">12014.71</text>
<path d="M176.3,25.3 L187.3,25.3 L181.8,35.6 Z" fill="#9E0B0F"/>
<text x="191" y="33.7" font-family='"Liberation Sans", Arial, sans-serif' font-size="13" fill="#222" stroke="#222" stroke-width="0.22" textLength="112" lengthAdjust="spacingAndGlyphs">−3543.37 (−22.78%)</text>
<text x="307" y="33.7" font-family='"Liberation Sans", Arial, sans-serif' font-size="13" fill="#111" font-weight="bold" stroke="#111" stroke-width="0.12" textLength="12" lengthAdjust="spacingAndGlyphs">O:</text>
<text x="321" y="33.7" font-family='"Liberation Sans", Arial, sans-serif' font-size="13" fill="#B0282D" stroke="#B0282D" stroke-width="0.22" textLength="52" lengthAdjust="spacingAndGlyphs">15556.11</text>
<text x="378" y="33.7" font-family='"Liberation Sans", Arial, sans-serif' font-size="13" fill="#111" font-weight="bold" stroke="#111" stroke-width="0.12" textLength="12" lengthAdjust="spacingAndGlyphs">H:</text>
<text x="392" y="33.7" font-family='"Liberation Sans", Arial, sans-serif' font-size="13" fill="#B0282D" stroke="#B0282D" stroke-width="0.22" textLength="52" lengthAdjust="spacingAndGlyphs">15728.12</text>
<text x="449" y="33.7" font-family='"Liberation Sans", Arial, sans-serif' font-size="13" fill="#111" font-weight="bold" stroke="#111" stroke-width="0.12" textLength="9" lengthAdjust="spacingAndGlyphs">L:</text>
<text x="460" y="33.7" font-family='"Liberation Sans", Arial, sans-serif' font-size="13" fill="#B0282D" stroke="#B0282D" stroke-width="0.22" textLength="52" lengthAdjust="spacingAndGlyphs">11715.40</text>
<text x="517" y="33.7" font-family='"Liberation Sans", Arial, sans-serif' font-size="13" fill="#111" font-weight="bold" stroke="#111" stroke-width="0.12" textLength="12" lengthAdjust="spacingAndGlyphs">C:</text>
<text x="531" y="33.7" font-family='"Liberation Sans", Arial, sans-serif' font-size="13" fill="#B0282D" stroke="#B0282D" stroke-width="0.22" textLength="51.5" lengthAdjust="spacingAndGlyphs">12014.71</text>
<text x="6.2" y="580.8" font-family='"Liberation Sans", Arial, sans-serif' font-size="13.5" fill="#111" stroke="#111" stroke-width="0.22" textLength="72.7" lengthAdjust="spacingAndGlyphs">Created with</text>
<text x="118.4" y="580.8" font-family='"Liberation Sans", Arial, sans-serif' font-size="13.5" fill="#3FAEE3" stroke="#3FAEE3" stroke-width="0.22" textLength="70.4" lengthAdjust="spacingAndGlyphs">TradingView</text>
<g>
<path d="M90.6,582 C88.9,582 87.9,579.6 87.9,577.6 C87.9,575.2 89.8,573.3 92.3,573.2 C92.9,570 95.4,567.7 98.6,567.7 C100.6,567.7 102.4,568.6 103.6,570 L108.4,572.5 C110.6,573.6 112.2,575.6 112.2,577.8 C112.2,580.2 110.6,582 108.4,582 Z" fill="#59C3E8"/>
<polyline points="88.2,579.9 96.6,572.9 102.1,580.3 109.4,571.7" fill="none" stroke="#F0F4F7" stroke-width="1.5" stroke-linejoin="miter"/>
</g>
</svg>
</body>
</html>
